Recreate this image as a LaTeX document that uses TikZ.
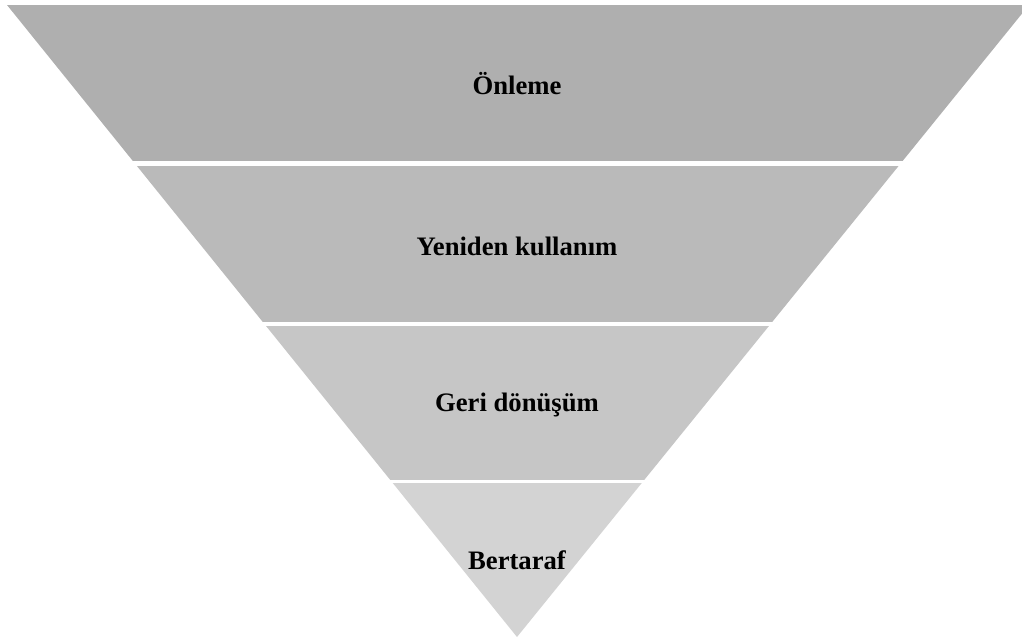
\documentclass[tikz,border=0pt]{standalone}
\usepackage{fontspec}
\setmainfont{Liberation Serif}
\definecolor{bandA}{HTML}{AFAFAF}
\definecolor{bandB}{HTML}{BABABA}
\definecolor{bandC}{HTML}{C6C6C6}
\definecolor{bandD}{HTML}{D3D3D3}

\begin{document}
\begin{tikzpicture}[x=0.75pt,y=-0.75pt,
  lab/.style={font=\fontsize{20}{24}\selectfont\bfseries, text=black, inner sep=0pt}]
  \useasboundingbox (0,0) rectangle (1022,642);
  % inverted triangle, cut into bands
  \begin{scope}
    \clip (7,5) -- (1029,5) -- (517,637) -- cycle;
    \foreach \ytop/\ybot/\col in {5/161/bandA, 166/322/bandB, 326/480/bandC, 483/640/bandD}
      \fill[\col] (0,\ytop) rectangle (1022,\ybot);
  \end{scope}
  % labels
  \node[lab] (prevent) at (517,84) {Önleme};
  \node[lab] (reuse) at (517,246) {Yeniden kullanım};
  \node[lab] (recycle) at (517,405) {Geri dönüşüm};
  \node[lab] (dispose) at (517,560) {Bertaraf};
\end{tikzpicture}
\end{document}
